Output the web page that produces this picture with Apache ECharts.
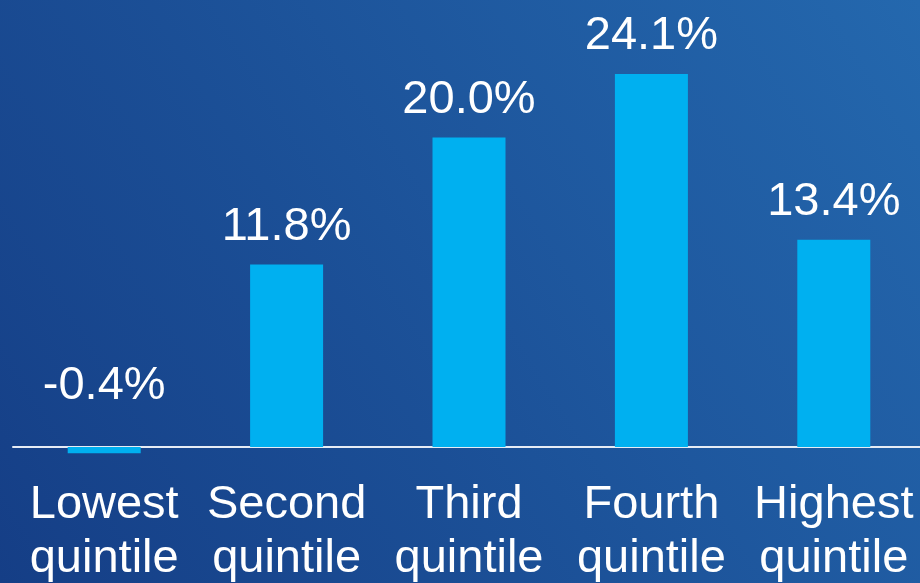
<!DOCTYPE html>
<html>
<head>
<meta charset="utf-8">
<script src="https://cdn.jsdelivr.net/npm/echarts@6/dist/echarts.min.js"></script>
<style>
  html, body { margin: 0; padding: 0; }
  #chart { width: 920px; height: 583px; }
</style>
</head>
<body>
<div id="chart"></div>
<script>
// data
const categories = ['Lowest\nquintile', 'Second\nquintile', 'Third\nquintile', 'Fourth\nquintile', 'Highest\nquintile'];
const values = [-0.4, 11.8, 20.0, 24.1, 13.4];

const myChart = echarts.init(document.getElementById('chart'));
const font = '"Liberation Sans", Arial, sans-serif';

myChart.setOption({
    backgroundColor: new echarts.graphic.LinearGradient(0, 1, 1, 0, [
        { offset: 0, color: '#153e86' },
        { offset: 1, color: '#2468ae' }
    ]),
    grid: { left: 13, right: -5, top: 13.6, bottom: 74, outerBoundsMode: 'none', containLabel: false },
    xAxis: {
        type: 'category',
        data: categories,
        axisLine: { onZero: true, lineStyle: { color: '#e6ecf5', width: 2 } },
        axisTick: { show: false },
        axisLabel: {
            color: '#fff',
            fontFamily: font,
            fontSize: 47,
            lineHeight: 54,
            margin: -31,
            interval: 0
        }
    },
    yAxis: {
        type: 'value',
        min: -4,
        max: 28,
        show: false,
        splitLine: { show: false }
    },
    series: [{
        type: 'bar',
        barWidth: 73,
        data: values.map(v => v < 0 ? {
            value: v,
            label: { position: 'top', offset: [0, -24] }
        } : v),
        itemStyle: { color: '#00b0f0' },
        label: {
            show: true,
            position: 'top',
            distance: 14,
            color: '#fff',
            fontFamily: font,
            fontSize: 47,
            formatter: p => p.value.toFixed(1) + '%'
        }
    }]
});
</script>
</body>
</html>
